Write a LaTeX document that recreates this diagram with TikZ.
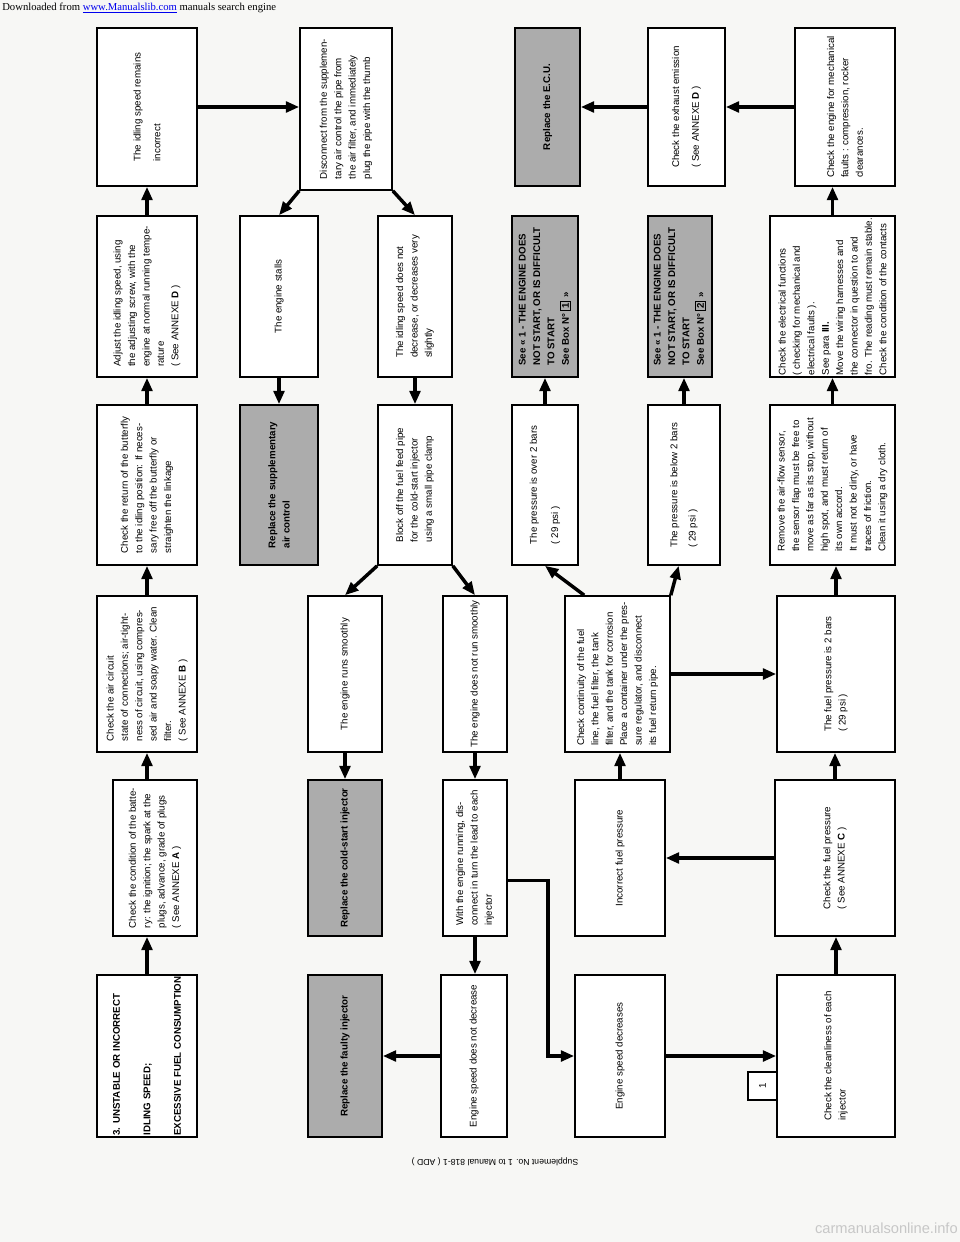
\documentclass[tikz,border=0pt]{standalone}
\usepackage{fontspec}
\setmainfont{Liberation Sans}
\newfontfamily\hdrfont{Liberation Serif}
\usetikzlibrary{arrows.meta,fit}
\definecolor{paper}{RGB}{247,247,245}
\definecolor{boxgray}{RGB}{172,172,172}
\definecolor{linkblue}{RGB}{0,0,238}
\newcommand\fsz{\fontsize{7.3}{10.8}\selectfont}
\setlength{\fboxsep}{1pt}
\setlength{\fboxrule}{0.8pt}
\tikzset{
  box/.style={draw, line width=1.2pt, fill=white, inner sep=0pt},
  gbox/.style={box, fill=boxgray},
  txt/.style={rotate=90, align=left, font=\fsz, inner sep=0pt},
  btxt/.style={txt, font=\fsz\bfseries},
  arr/.style={line width=2.6pt, -{Triangle[length=10pt,width=8pt]}},
}
\begin{document}
\begin{tikzpicture}[x=0.75pt,y=-0.75pt]
\fill[paper] (0,0) rectangle (960,1242);
\useasboundingbox (0,0) rectangle (960,1242);

% ---------- column A ----------
\node[box, fit={(97,975) (197,1137)}] (title) {};
\node[btxt] (title-t) at (title.center) {3. UNSTABLE OR INCORRECT\\[12pt]IDLING SPEED;\\[12pt]EXCESSIVE FUEL CONSUMPTION};
\node[box, fit={(113,780) (197,936)}] (batt) {};
\node[txt] (batt-t) at (batt.center) {Check the condition of the batte-\\ry: the ignition; the spark at the\\plugs, advance, grade of plugs\\( See ANNEXE \textbf{A} )};
\node[box, fit={(97,596) (197,752)}] (air) {};
\node[txt] (air-t) at (air.center) {Check the air circuit\\state of connections; air-tight-\\ness of circuit, using compres-\\sed air and soapy water. Clean\\filter.\\( See ANNEXE \textbf{B} )};
\node[box, fit={(97,405) (197,565)}] (bfly) {};
\node[txt] (bfly-t) at (bfly.center) {Check the return of the butterfly\\to the idling position: If neces-\\sary free off the butterfly or\\straighten the linkage};
\node[box, fit={(97,216) (197,377)}] (adj) {};
\node[txt] (adj-t) at (adj.center) {Adjust the idling speed, using\\the adjusting screw, with the\\engine at normal running tempe-\\rature\\( See ANNEXE \textbf{D} )};
\node[box, fit={(97,28) (197,186)}] (rem) {};
\node[txt] (rem-t) at (rem.center) {The idling speed remains\\[4pt]incorrect};

% ---------- column B ----------
\node[box, fit={(300,28) (392,190)}] (disc) {};
\node[txt] (disc-t) at (disc.center) {Disconnect from the supplemen-\\tary air control the pipe from\\the air filter, and immediately\\plug the pipe with the thumb};
\node[box, fit={(240,216) (318,377)}] (stall) {};
\node[txt] (stall-t) at (stall.center) {The engine stalls};
\node[gbox, fit={(240,405) (318,565)}] (supp) {};
\node[btxt] (supp-t) at (supp.center) {Replace the supplementary\\air control};
\node[box, fit={(308,596) (382,752)}] (runs) {};
\node[txt] (runs-t) at (runs.center) {The engine runs smoothly};
\node[gbox, fit={(308,780) (382,936)}] (cold) {};
\node[btxt] (cold-t) at (cold.center) {Replace the cold-start injector};
\node[gbox, fit={(308,975) (382,1137)}] (faulty) {};
\node[btxt] (faulty-t) at (faulty.center) {Replace the faulty injector};

% ---------- column C ----------
\node[box, fit={(378,216) (452,377)}] (idl) {};
\node[txt] (idl-t) at (idl.center) {The idling speed does not\\decrease, or decreases very\\slightly};
\node[box, fit={(378,405) (452,565)}] (block) {};
\node[txt] (block-t) at (block.center) {Block off the fuel feed pipe\\for the cold-start injector\\using a small pipe clamp};
\node[box, fit={(443,596) (507,752)}] (nsm) {};
\node[txt] (nsm-t) at (nsm.center) {The engine does not run smoothly};
\node[box, fit={(443,780) (507,936)}] (wrun) {};
\node[txt] (wrun-t) at (wrun.center) {With the engine running, dis-\\connect in turn the lead to each\\injector};
\node[box, fit={(441,975) (507,1137)}] (ndec) {};
\node[txt] (ndec-t) at (ndec.center) {Engine speed does not decrease};

% ---------- column D ----------
\node[gbox, fit={(515,28) (580,186)}] (ecu) {};
\node[btxt] (ecu-t) at (ecu.center) {Replace the E.C.U.};
\node[gbox, fit={(512,216) (578,377)}] (see1) {};
\node[btxt] (see1-t) at (see1.center) {See « 1 - THE ENGINE DOES\\NOT START, OR IS DIFFICULT\\TO START\\See Box N° \fbox{1} »};
\node[box, fit={(512,405) (578,565)}] (over) {};
\node[txt] (over-t) at (over.center) {The pressure is over 2 bars\\[5pt]( 29 psi )};
\node[box, fit={(565,596) (670,752)}] (cont) {};
\node[txt] (cont-t) at (cont.center) {Check continuity of the fuel\\line, the fuel filter, the tank\\filter, and the tank for corrosion\\Place a container under the pres-\\sure regulator, and disconnect\\its fuel return pipe.};
\node[box, fit={(575,780) (665,936)}] (incf) {};
\node[txt] (incf-t) at (incf.center) {Incorrect fuel pressure};
\node[box, fit={(575,975) (665,1137)}] (dec) {};
\node[txt] (dec-t) at (dec.center) {Engine speed decreases};

% ---------- column E ----------
\node[box, fit={(648,28) (725,186)}] (exh) {};
\node[txt] (exh-t) at (exh.center) {Check the exhaust emission\\[4pt]( See ANNEXE \textbf{D} )};
\node[gbox, fit={(648,216) (712,377)}] (see2) {};
\node[btxt] (see2-t) at (see2.center) {See « 1 - THE ENGINE DOES\\NOT START, OR IS DIFFICULT\\TO START\\See Box N° \fbox{2} »};
\node[box, fit={(648,405) (720,565)}] (below) {};
\node[txt] (below-t) at (below.center) {The pressure is below 2 bars\\[3pt]( 29 psi )};

% ---------- column F ----------
\node[box, fit={(795,28) (895,186)}] (mech) {};
\node[txt] (mech-t) at (mech.center) {Check the engine for mechanical\\faults : compression, rocker\\clearances.};
\node[box, fit={(770,216) (895,377)}] (elec) {};
\node[txt] (elec-t) at (elec.center) {Check the electrical functions\\( checking for mechanical and\\electrical faults ).\\See para \textbf{III.}\\Move the wiring harnesses and\\the connector in question to and\\fro. The reading must remain stable.\\Check the condition of the contacts};
\node[box, fit={(770,405) (895,565)}] (afs) {};
\node[txt] (afs-t) at (afs.center) {Remove the air-flow sensor,\\the sensor flap must be free to\\move as far as its stop, without\\high spot, and must return of\\its own accord.\\It must not be dirty, or have\\traces of friction.\\Clean it using a dry cloth.};
\node[box, fit={(777,596) (895,752)}] (fp2) {};
\node[txt] (fp2-t) at (fp2.center) {The fuel pressure is 2 bars\\( 29 psi )};
\node[box, fit={(775,780) (895,936)}] (chkfp) {};
\node[txt] (chkfp-t) at (chkfp.center) {Check the fuel pressure\\( See ANNEXE \textbf{C} )};
\node[box, fit={(777,975) (895,1137)}] (clean) {};
\node[txt] (clean-t) at (clean.center) {Check the cleanliness of each\\injector};
\node[box, fit={(748,1072) (777,1100)}] (one) {};
\node[txt] (one-t) at (one.center) {1};

% ---------- connectors ----------
\draw[arr] (title.north) -- (title.north |- batt.south);
\draw[arr] (batt.north -| title.north) -- (title.north |- air.south);
\draw[arr] (air.north) -- (air.north |- bfly.south);
\draw[arr] (bfly.north) -- (bfly.north |- adj.south);
\draw[arr] (adj.north) -- (adj.north |- rem.south);
\draw[arr] (rem.east) -- (rem.east -| disc.west);
\draw[arr] (disc.south west) -- (stall.north);
\draw[arr] (disc.south east) -- (idl.north);
\draw[arr] (stall.south) -- (stall.south |- supp.north);
\draw[arr] (idl.south) -- (idl.south |- block.north);
\draw[arr] (block.south west) -- (runs.north);
\draw[arr] (block.south east) -- (nsm.north);
\draw[arr] (runs.south) -- (runs.south |- cold.north);
\draw[arr] (nsm.south) -- (nsm.south |- wrun.north);
\draw[arr] (wrun.south) -- (wrun.south |- ndec.north);
\draw[arr] (ndec.west) -- (faulty.east);
\draw[arr] ([yshift=-17pt]wrun.east) -- ++(40,0) |- (dec.west);
\draw[arr] (dec.east) -- (clean.west);
\draw[arr] (incf.north) -- (incf.north |- cont.south);
\draw[arr] ([xshift=15pt]cont.north west) -- (over.south);
\draw[arr] (cont.north east) -- ([xshift=-4pt]below.south);
\draw[arr] (over.north) -- (over.north |- see1.south);
\draw[arr] (below.north) -- (below.north |- see2.south);
\draw[arr] (cont.east) -- (cont.east -| fp2.west);
\draw[arr] (chkfp.west) -- (incf.east);
\draw[arr] (clean.north) -- (clean.north |- chkfp.south);
\draw[arr] (chkfp.north) -- (chkfp.north |- fp2.south);
\draw[arr] (fp2.north) -- (fp2.north |- afs.south);
\draw[arr] (afs.north) -- (afs.north |- elec.south);
\draw[arr] (elec.north) -- (elec.north |- mech.south);
\draw[arr] (mech.west) -- (exh.east);
\draw[arr] (exh.west) -- (ecu.east);

% ---------- page texts ----------
\node[anchor=west, inner sep=0pt, font=\hdrfont\fontsize{8}{9}\selectfont] (hdr) at (2,8) {Downloaded from \textcolor{linkblue}{\underline{www.Manualslib.com}} manuals search engine};
\node[rotate=180, inner sep=0pt, font=\fontsize{6.5}{7}\selectfont] (suppl) at (495,1162) {Supplement No. 1 to Manual 818-1 ( ADD )};
\node[anchor=east, inner sep=0pt, text=black!22, font=\fontsize{11}{12}\selectfont] (wm) at (958,1228) {carmanualsonline.info};
\end{tikzpicture}
\end{document}
